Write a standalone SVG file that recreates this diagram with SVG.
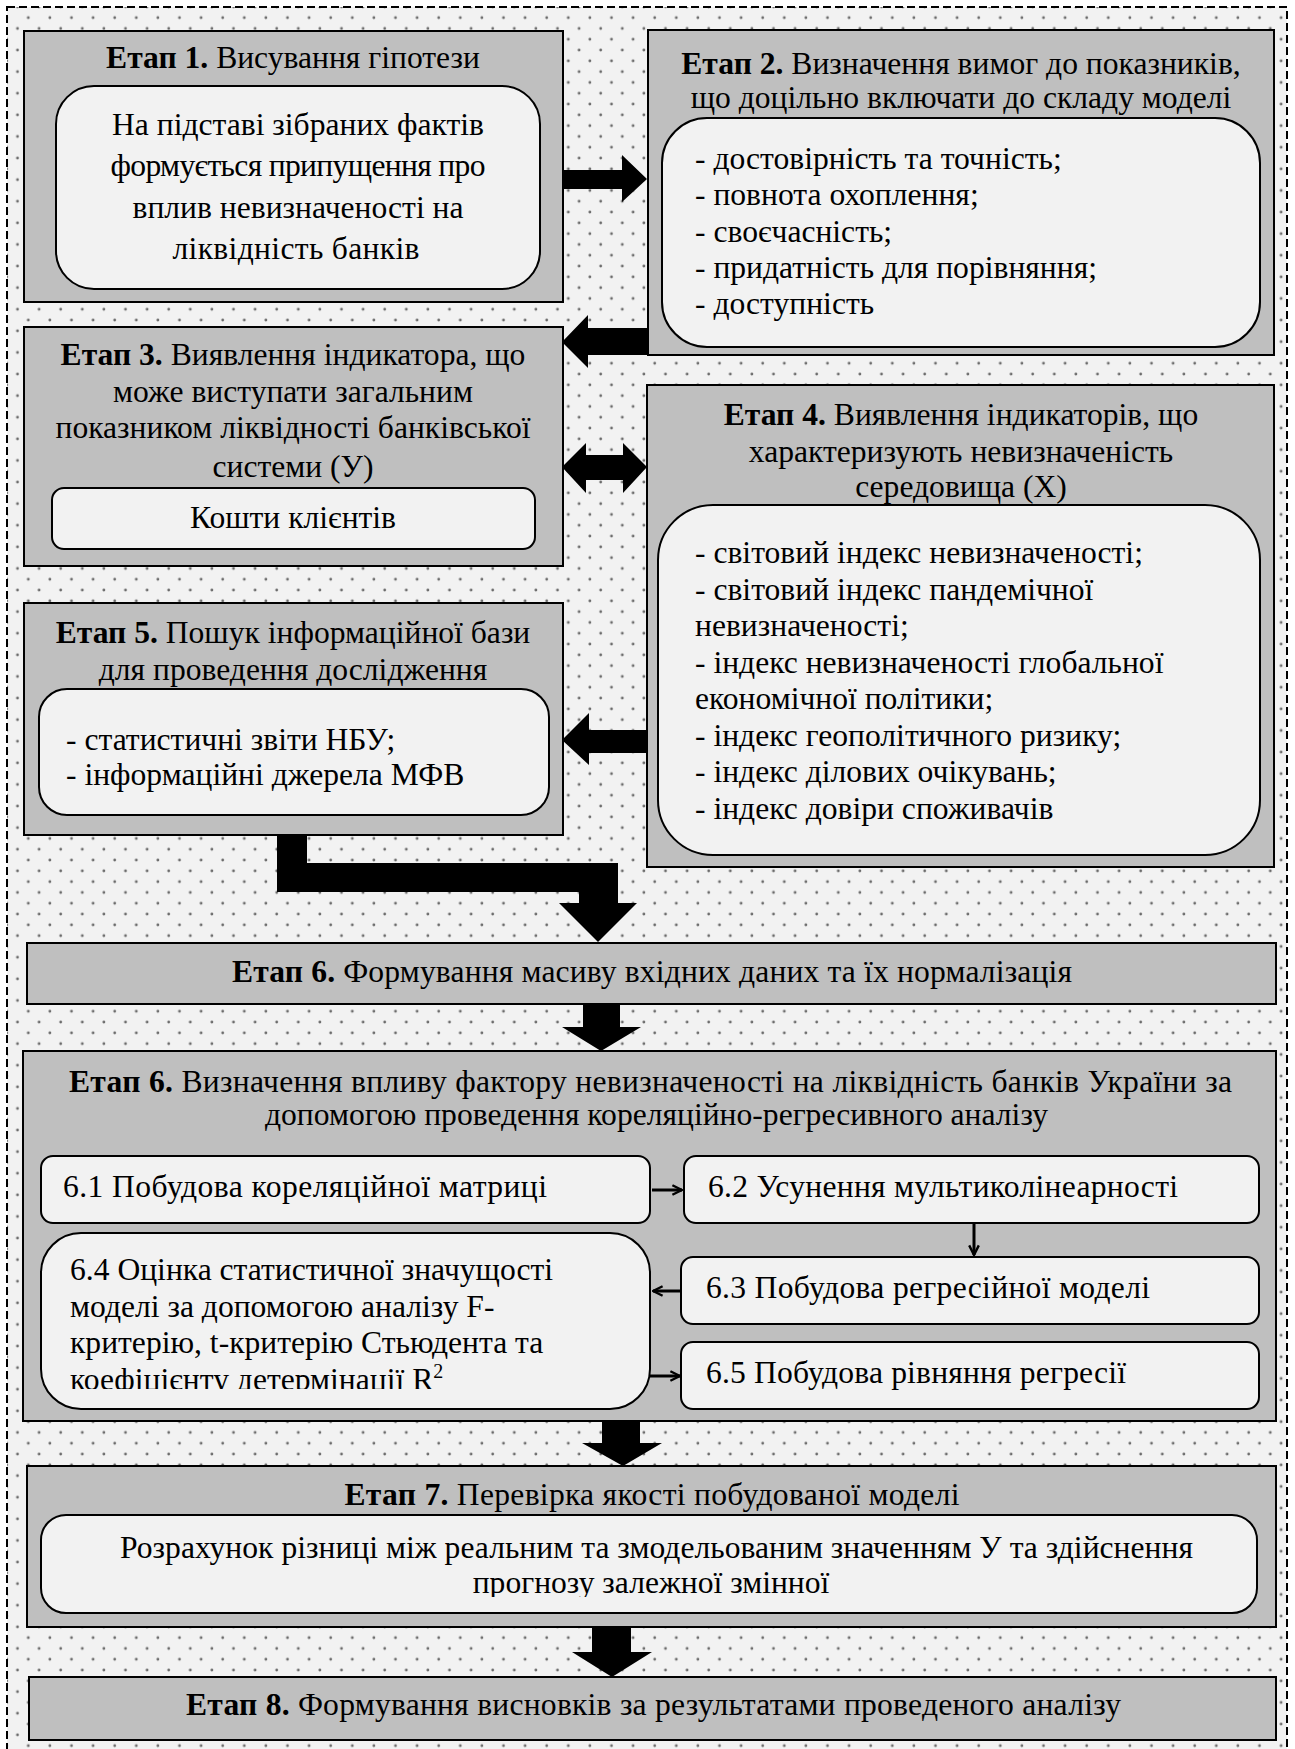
<svg xmlns="http://www.w3.org/2000/svg" width="1295" height="1749" viewBox="0 0 1295 1749">
<style>
text{font-family:"Liberation Serif","Times New Roman",serif;font-size:31.6px;fill:#000}
.c{text-anchor:middle}
.b{font-weight:bold}
.stage{fill:#bfbfbf;stroke:#000;stroke-width:2}
.inner{fill:#f2f2f2;stroke:#000;stroke-width:2}
.fat{fill:#000;stroke:none}
.thin{fill:none;stroke:#000;stroke-width:3}
</style>
<defs>
<pattern id="dots" patternUnits="userSpaceOnUse" x="0" y="0" width="21.6" height="21.6">
<rect width="21.6" height="21.6" fill="#f2f2f2"/>
<circle cx="6.7" cy="17.7" r="1.4" fill="#6a6a6a"/>
<circle cx="17.5" cy="6.9" r="1.4" fill="#6a6a6a"/>
</pattern>
<marker id="open" viewBox="0 0 10 10" refX="9" refY="5" markerWidth="4" markerHeight="4" orient="auto" markerUnits="strokeWidth">
<path d="M1,1 L9,5 L1,9" fill="none" stroke="#000" stroke-width="2"/>
</marker>
<clipPath id="clip64"><rect x="41" y="1233" width="609" height="156"/></clipPath>
<clipPath id="clip7"><rect x="41" y="1515" width="1216" height="82"/></clipPath>
</defs>
<rect x="7" y="7" width="1280" height="1770" fill="url(#dots)" stroke="#000" stroke-width="2" stroke-dasharray="8 4"/>

<g id="stage1">
<rect class="stage" x="24" y="31" width="539" height="271"/>
<text class="c" x="293" y="68"><tspan class="b">Етап 1.</tspan> Висування гіпотези</text>
<rect class="inner" x="56" y="86" width="484" height="203" rx="38"/>
<text class="c" x="298" y="135">На підставі зібраних фактів</text>
<text class="c" x="298" y="176" textLength="375">формується припущення про</text>
<text class="c" x="298" y="218">вплив невизначеності на</text>
<text class="c" x="296" y="259" textLength="247">ліквідність банків</text>
</g>

<g id="stage2">
<rect class="stage" x="648" y="30" width="626" height="325"/>
<text class="c" x="961" y="74"><tspan class="b">Етап 2.</tspan> Визначення вимог до показників,</text>
<text class="c" x="961" y="108">що доцільно включати до складу моделі</text>
<rect class="inner" x="662" y="118" width="598" height="229" rx="45"/>
<text x="695" y="169">- достовірність  та точність;</text>
<text x="695" y="205">- повнота охоплення;</text>
<text x="695" y="242">- своєчасність;</text>
<text x="695" y="278">- придатність для порівняння;</text>
<text x="695" y="314">- доступність</text>
</g>

<g id="stage3">
<rect class="stage" x="24" y="327" width="539" height="239"/>
<text class="c" x="293" y="365"><tspan class="b">Етап 3.</tspan> Виявлення індикатора, що</text>
<text class="c" x="293" y="402">може виступати загальним</text>
<text class="c" x="293" y="438">показником ліквідності банківської</text>
<text class="c" x="293" y="477">системи (У)</text>
<rect class="inner" x="52" y="488" width="483" height="61" rx="12"/>
<text class="c" x="293" y="528">Кошти клієнтів</text>
</g>

<g id="stage4">
<rect class="stage" x="647" y="385" width="627" height="482"/>
<text class="c" x="961" y="425"><tspan class="b">Етап 4.</tspan> Виявлення індикаторів, що</text>
<text class="c" x="961" y="462">характеризують невизначеність</text>
<text class="c" x="961" y="497">середовища (X)</text>
<rect class="inner" x="658" y="505" width="602" height="350" rx="55"/>
<text x="695" y="563">- світовий індекс невизначеності;</text>
<text x="695" y="599.5">- світовий індекс пандемічної</text>
<text x="695" y="636">невизначеності;</text>
<text x="695" y="672.5">- індекс невизначеності глобальної</text>
<text x="695" y="709">економічної політики;</text>
<text x="695" y="745.5">- індекс геополітичного ризику;</text>
<text x="695" y="782">- індекс ділових очікувань;</text>
<text x="695" y="818.5">- індекс довіри споживачів</text>
</g>

<g id="stage5">
<rect class="stage" x="24" y="603" width="539" height="232"/>
<text class="c" x="293" y="643"><tspan class="b">Етап 5.</tspan> Пошук інформаційної бази</text>
<text class="c" x="293" y="680">для проведення дослідження</text>
<rect class="inner" x="39" y="689" width="510" height="126" rx="28"/>
<text x="66" y="750">- статистичні звіти НБУ;</text>
<text x="66" y="785">- інформаційні джерела МФВ</text>
</g>

<g id="stage6a">
<rect class="stage" x="27" y="943" width="1249" height="61"/>
<text class="c" x="652" y="982" textLength="840"><tspan class="b">Етап 6.</tspan> Формування масиву вхідних даних та їх нормалізація</text>
</g>

<g id="stage6b">
<rect class="stage" x="23" y="1051" width="1253" height="370"/>
<text x="69" y="1092" textLength="1163"><tspan class="b">Етап 6.</tspan> Визначення впливу фактору невизначеності на ліквідність банків України за</text>
<text x="265" y="1125" textLength="783">допомогою проведення кореляційно-регресивного аналізу</text>
</g>
<g id="step61">
<rect class="inner" x="41" y="1156" width="609" height="67" rx="12"/>
<text x="63" y="1197" textLength="484">6.1 Побудова кореляційної матриці</text>
</g>
<g id="step62">
<rect class="inner" x="684" y="1156" width="575" height="67" rx="12"/>
<text x="708" y="1197" textLength="470">6.2 Усунення мультиколінеарності</text>
</g>
<g id="step63">
<rect class="inner" x="681" y="1257" width="578" height="67" rx="12"/>
<text x="706" y="1298" textLength="444">6.3 Побудова регресійної моделі</text>
</g>
<g id="step64">
<rect class="inner" x="41" y="1233" width="609" height="176" rx="40"/>
<g clip-path="url(#clip64)">
<text x="70" y="1280">6.4 Оцінка статистичної значущості</text>
<text x="70" y="1317">моделі за допомогою аналізу F-</text>
<text x="70" y="1353">критерію, t-критерію Стьюдента та</text>
<text x="70" y="1390">коефіцієнту детермінації R<tspan dy="-12" font-size="20">2</tspan></text>
</g>
</g>
<g id="step65">
<rect class="inner" x="681" y="1342" width="578" height="67" rx="12"/>
<text x="706" y="1383" textLength="420">6.5 Побудова рівняння регресії</text>
</g>

<g id="stage7">
<rect class="stage" x="27" y="1466" width="1249" height="161"/>
<text class="c" x="652" y="1505" textLength="615"><tspan class="b">Етап 7.</tspan> Перевірка якості побудованої моделі</text>
<rect class="inner" x="41" y="1515" width="1216" height="98" rx="25"/>
<g clip-path="url(#clip7)">
<text x="120" y="1558" textLength="1073">Розрахунок різниці між реальним та змодельованим значенням У та здійснення</text>
<text class="c" x="651" y="1593">прогнозу залежної змінної</text>
</g>
</g>

<g id="stage8">
<rect class="stage" x="29" y="1677" width="1247" height="63"/>
<text x="186" y="1715" textLength="935"><tspan class="b">Етап 8.</tspan> Формування висновків за результатами проведеного аналізу</text>
</g>

<g id="connectors">
<polygon class="fat" points="563,170 622,170 622,155 647,179 622,202 622,189 563,189"/>
<polygon class="fat" points="648,328 588,328 588,315 562,342 588,368 588,355 648,355"/>
<polygon class="fat" points="562,467 586,443 586,455 623,455 623,443 647,467 623,493 623,480 586,480 586,493"/>
<polygon class="fat" points="647,730 589,730 589,713 562,740 589,765 589,753 647,753"/>
<polygon class="fat" points="277,835 307,835 307,863 618,863 618,903 637,903 598,942 559,903 579,903 579,892 277,892"/>
<polygon class="fat" points="583,1004 620,1004 620,1027 641,1027 601,1051 562,1027 583,1027"/>
<polygon class="fat" points="602,1421 640,1421 640,1443 662,1443 623,1466 582,1443 602,1443"/>
<polygon class="fat" points="592,1627 631,1627 631,1652 652,1652 612,1677 572,1652 592,1652"/>
<line class="thin" x1="652" y1="1190" x2="682" y2="1190" marker-end="url(#open)"/>
<line class="thin" x1="974" y1="1223" x2="974" y2="1255" marker-end="url(#open)"/>
<line class="thin" x1="681" y1="1291" x2="653" y2="1291" marker-end="url(#open)"/>
<line class="thin" x1="650" y1="1376" x2="680" y2="1376" marker-end="url(#open)"/>
</g>
</svg>
